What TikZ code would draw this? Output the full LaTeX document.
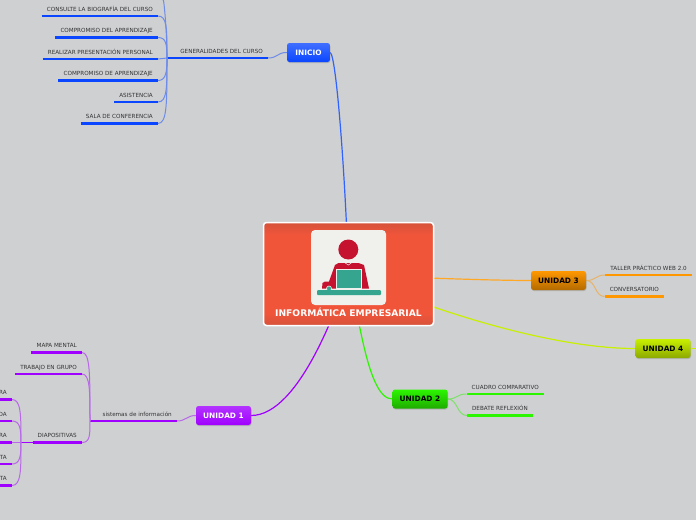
\documentclass[tikz,border=0pt]{standalone}
\usepackage{fontspec}
\setmainfont{DejaVu Sans}
\usepackage{tikz}
\usetikzlibrary{positioning,backgrounds,shadows,calc}
\definecolor{mapbg}{HTML}{CFD0D2}
\definecolor{labelgrey}{HTML}{333333}
\definecolor{rootred}{HTML}{F0553A}
\definecolor{rootdark}{HTML}{D5523A}
\definecolor{cardwhite}{HTML}{F0F0EC}
\definecolor{personred}{HTML}{C4122F}
\definecolor{deskteal}{HTML}{35A58F}
\definecolor{iniciocol}{HTML}{0A46FF}
\definecolor{unoacol}{HTML}{A000FF}
\definecolor{doscol}{HTML}{2CF500}
\definecolor{trescol}{HTML}{FF9800}
\definecolor{cuatrocol}{HTML}{C8F000}
\pgfdeclareverticalshading{rootshade}{100bp}{color(0bp)=(rootdark); color(25bp)=(rootdark);
  color(31bp)=(rootred); color(69bp)=(rootred); color(75bp)=(rootdark); color(100bp)=(rootdark)}
\tikzset{
  unitbox/.style 2 args={rectangle,rounded corners=2.5pt,minimum width=55pt,minimum height=19pt,
    top color=#1,bottom color=#2,text=white,font=\fontsize{7.4}{8}\selectfont\bfseries,
    drop shadow={shadow xshift=0.5pt,shadow yshift=-1pt,opacity=0.35},inner sep=0pt},
  topic/.style={font=\fontsize{5.65}{6}\selectfont,text=labelgrey,inner xsep=5pt,inner ysep=4.5pt,
    text height=5pt,text depth=0pt,anchor=south east,
    append after command={(\tikzlastnode.south west) edge[draw=#1,line width=2.4pt] (\tikzlastnode.south east)}},
  branch/.style={line width=1.2pt,#1},
  twig/.style={line width=1pt,#1!50!mapbg},
}
\begin{document}
\begin{tikzpicture}[x=1pt,y=-1pt,node distance=21.5pt]
  \useasboundingbox (0,0) rectangle (696,520);
  \node[rectangle,rounded corners=3pt,minimum width=170pt,minimum height=103pt,draw=white,
    line width=1.5pt,shading=rootshade] (root) at (348.5,274) {};
  \node[rectangle,rounded corners=4pt,minimum size=75pt,fill=cardwhite] (card) at (348.5,267.5) {};
  \node[font=\fontsize{9.15}{10}\selectfont\bfseries,text=white,inner sep=0pt,above=9.5pt of root.south] (roottitle)
    {INFORMÁTICA EMPRESARIAL};
  \fill[personred] (335,265) -- (338.5,263) -- (358.5,263) -- (364,265) -- (369,288.5) -- (322,288.5)
    -- (322.5,283) -- (325,281.5) -- (329,281.5) -- cycle;
  \fill[personred] (348.3,249.5) circle (10pt);
  \draw[cardwhite,line width=0.5pt] (344.5,262.5) -- (348.3,265) -- (352,262.5);
  \fill[deskteal,draw=cardwhite,line width=0.6pt] (336.5,269) rectangle (361,288.5);
  \fill[deskteal,draw=cardwhite,line width=0.6pt] (329,288.5) circle (2.5pt);
  \fill[deskteal,rounded corners=1pt] (317,290) rectangle (381,295);

  \node[unitbox={iniciocol!78!white}{iniciocol},minimum width=43pt] (inicio) at (308.5,52.5) {INICIO};
  \node[unitbox={unoacol!80!white}{unoacol}] (unidad1) at (223.5,415.5) {UNIDAD 1};
  \node[unitbox={doscol}{doscol!70!black},text=black] (unidad2) at (420,399) {UNIDAD 2};
  \node[unitbox={trescol}{trescol!70!black},text=black] (unidad3) at (558.5,280.5) {UNIDAD 3};
  \node[unitbox={cuatrocol}{cuatrocol!70!black},text=black] (unidad4) at (663,348.5) {UNIDAD 4};
  \coordinate (unidad4end) at (696,348.5);

  \node[topic=iniciocol] (generalidades) at (268,58) {GENERALIDADES DEL CURSO};
  \coordinate (iniciohub) at (167,58);
  \coordinate (iniciotop) at (162,0);
  \node[topic=iniciocol] (biografia) at (158,16) {CONSULTE LA BIOGRAFÍA DEL CURSO};
  \node[topic=iniciocol,below=of biografia.south east,anchor=south east] (aprendizaje) {COMPROMISO DEL APRENDIZAJE};
  \node[topic=iniciocol,below=of aprendizaje.south east,anchor=south east] (presentacion) {REALIZAR PRESENTACIÓN PERSONAL};
  \node[topic=iniciocol,below=of presentacion.south east,anchor=south east] (compromiso) {COMPROMISO DE APRENDIZAJE};
  \node[topic=iniciocol,below=of compromiso.south east,anchor=south east] (asistencia) {ASISTENCIA};
  \node[topic=iniciocol,below=of asistencia.south east,anchor=south east] (sala) {SALA DE CONFERENCIA};

  \node[topic=unoacol] (sistemas) at (177,421) {sistemas de información};
  \coordinate (sistemashub) at (90,421);
  \node[topic=unoacol] (mapa) at (82,352.5) {MAPA MENTAL};
  \node[topic=unoacol,below=of mapa.south east,anchor=south east] (trabajo) {TRABAJO EN GRUPO};
  \node[topic=unoacol] (diapositivas) at (82,442.5) {DIAPOSITIVAS};
  \coordinate (diapohub) at (21,442.5);
  \node[topic=unoacol] (diapoa) at (12,399.5) {RA};
  \node[topic=unoacol,below=of diapoa.south east,anchor=south east] (diapob) {DA};
  \node[topic=unoacol,below=of diapob.south east,anchor=south east] (diapoc) {RA};
  \node[topic=unoacol,below=of diapoc.south east,anchor=south east] (diapod) {TA};
  \node[topic=unoacol,below=of diapod.south east,anchor=south east] (diapoe) {TA};

  \node[topic=doscol] (cuadro) at (544,394) {CUADRO COMPARATIVO};
  \node[topic=doscol] (debate) at (533,415.5) {DEBATE REFLEXIÓN};
  \node[topic=trescol] (taller) at (692,275) {TALLER PRÁCTICO WEB 2.0};
  \node[topic=trescol] (conversatorio) at (664,296.5) {CONVERSATORIO};

  \begin{scope}[on background layer]
    \fill[mapbg] (0,0) rectangle (696,520);
    \draw[branch=iniciocol!85!white] (inicio.east) .. controls +(6,3) and +(-3.5,-104) .. (root.center);
    \draw[branch=unoacol] (root.center) .. controls +(-9,26) and +(49,0) .. (unidad1.east);
    \draw[branch=doscol] (root.center) .. controls +(10,36) and +(-25,0) .. (unidad2.west);
    \draw[branch=trescol!85!white] (root.center) .. controls +(40,3) and +(-40,0) .. (unidad3.west);
    \draw[branch=cuatrocol] (root.center) .. controls +(101.5,44) and +(-75,0) .. (unidad4.west);
    \draw[branch=cuatrocol] (unidad4.east) -- (unidad4end);

    \draw[twig=iniciocol] (inicio.west) .. controls +(-10,0) and +(10,0) .. (generalidades.south east);
    \draw[branch=iniciocol] (generalidades.south west) -- (iniciohub);
    \draw[twig=iniciocol] (iniciohub) .. controls +(0,-28) and +(1,-15) .. (iniciotop);
    \draw[twig=iniciocol] (iniciohub) .. controls +(0,-30) and +(9,0) .. (biografia.south east);
    \draw[twig=iniciocol] (iniciohub) .. controls +(0,-14) and +(8,0) .. (aprendizaje.south east);
    \draw[twig=iniciocol] (iniciohub) -- (presentacion.south east);
    \draw[twig=iniciocol] (iniciohub) .. controls +(0,14) and +(8,0) .. (compromiso.south east);
    \draw[twig=iniciocol] (iniciohub) .. controls +(0,30) and +(9,0) .. (asistencia.south east);
    \draw[twig=iniciocol] (iniciohub) .. controls +(0,46) and +(9,0) .. (sala.south east);

    \draw[twig=unoacol] (unidad1.west) .. controls +(-9,0) and +(9,0) .. (sistemas.south east);
    \draw[branch=unoacol] (sistemas.south west) -- (sistemashub);
    \draw[twig=unoacol] (sistemashub) .. controls +(0,-48) and +(8,0) .. (mapa.south east);
    \draw[twig=unoacol] (sistemashub) .. controls +(0,-30) and +(8,0) .. (trabajo.south east);
    \draw[twig=unoacol] (sistemashub) .. controls +(0,14) and +(8,0) .. (diapositivas.south east);
    \draw[branch=unoacol] (diapositivas.south west) -- (diapohub);
    \draw[twig=unoacol] (diapohub) .. controls +(0,-28) and +(9,0) .. (diapoa.south east);
    \draw[twig=unoacol] (diapohub) .. controls +(0,-14) and +(8,0) .. (diapob.south east);
    \draw[twig=unoacol] (diapohub) -- (diapoc.south east);
    \draw[twig=unoacol] (diapohub) .. controls +(0,14) and +(8,0) .. (diapod.south east);
    \draw[twig=unoacol] (diapohub) .. controls +(0,28) and +(9,0) .. (diapoe.south east);

    \draw[twig=doscol] (unidad2.east) .. controls +(10,0) and +(-10,0) .. (cuadro.south west);
    \draw[twig=doscol] (unidad2.east) .. controls +(10,0) and +(-10,0) .. (debate.south west);
    \draw[twig=trescol] (unidad3.east) .. controls +(10,0) and +(-10,0) .. (taller.south west);
    \draw[twig=trescol] (unidad3.east) .. controls +(10,0) and +(-10,0) .. (conversatorio.south west);
  \end{scope}
\end{tikzpicture}
\end{document}
